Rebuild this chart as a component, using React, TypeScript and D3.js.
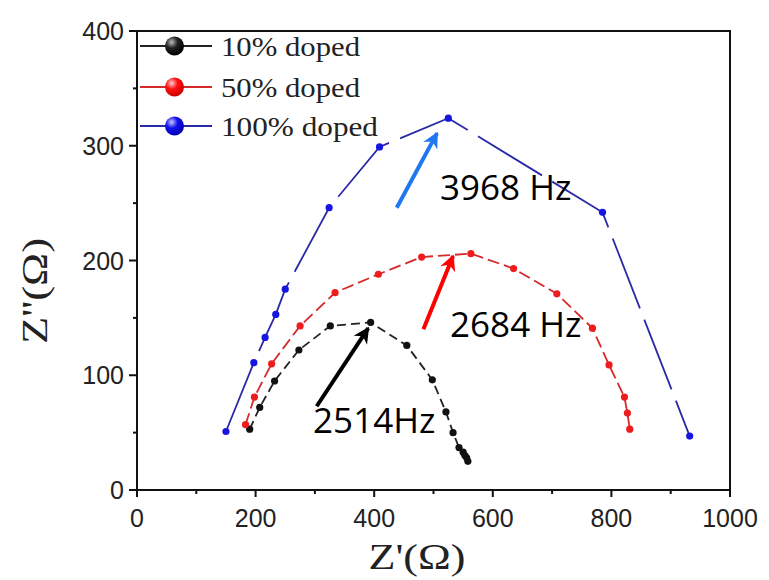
import { scaleLinear, line, range } from "d3";

// Nyquist data (Z', Z'')
const zRe10 = [190, 207, 232, 273, 326, 394, 455, 498, 521, 533, 543, 550, 553, 556, 558];
const zIm10 = [53, 72, 95, 122, 143, 146, 126, 96, 68, 50, 37, 33, 30, 28, 25];

const zRe50 = [183, 198, 227, 275, 334, 407, 480, 563, 635, 708, 768, 796, 822, 827, 831];
const zIm50 = [57, 81, 110, 143, 172, 188, 203, 206, 193, 171, 141, 109, 81, 67, 53];

const zRe100 = [150, 197, 216, 234, 250, 324, 409, 525, 785, 932];
const zIm100 = [51, 111, 133, 153, 175, 246, 299, 324, 242, 47];

const seriesNames = ["10% doped", "50% doped", "100% doped"];
const xTicks = [0, 200, 400, 600, 800, 1000];
const yTicks = [0, 100, 200, 300, 400];

// frequency annotations: [startX, startY, endX, endY], label anchor
const arrowBlack = [303, 73, 390, 141];
const arrowRed = [483, 140, 533, 204];
const arrowBlue = [438, 246, 506, 311];
const labels = [
  { text: "3968 Hz", x: 511, y: 253 },
  { text: "2684 Hz", x: 528, y: 133 },
  { text: "2514Hz", x: 297, y: 50 },
];

const W = 769;
const H = 580;
const m = { left: 137, right: 730, top: 31, bottom: 490 };

const App = () => {
  const x = scaleLinear().domain([0, 1000]).range([m.left, m.right]);
  const y = scaleLinear().domain([0, 400]).range([m.bottom, m.top]);

  const series = [
    { re: zRe10, im: zIm10, line: "#222", dot: "#111", dash: "9,5", grad: "gBlack" },
    { re: zRe50, im: zIm50, line: "#d42a2a", dot: "#ee1c1c", dash: "12,5", grad: "gRed" },
    { re: zRe100, im: zIm100, line: "#2a2aa8", dot: "#1616e0", dash: "75,12", grad: "gBlue" },
  ];

  const path = line<number>()
    .x((d) => x(d[0]))
    .y((d) => y(d[1]));

  const arrows = [
    { a: arrowBlack, c: "#000", id: "ahK" },
    { a: arrowRed, c: "#ff0000", id: "ahR" },
    { a: arrowBlue, c: "#1f78f0", id: "ahB" },
  ];

  const minorX = range(100, 1000, 200);
  const minorY = range(50, 400, 100);

  return (
    <svg
      width={W}
      height={H}
      style={{ position: "absolute", left: 0, top: 0, background: "#fff" }}
    >
      <defs>
        {arrows.map((ar) => (
          <marker
            key={ar.id}
            id={ar.id}
            viewBox="0 0 10 10"
            refX="9"
            refY="5"
            markerWidth="4.2"
            markerHeight="4"
            orient="auto"
          >
            <path d="M0,0 L10,5 L0,10 L3,5 z" fill={ar.c} />
          </marker>
        ))}
        <radialGradient id="gBlack" cx="0.35" cy="0.3" r="0.7">
          <stop offset="0" stopColor="#bbb" />
          <stop offset="0.45" stopColor="#222" />
          <stop offset="1" stopColor="#000" />
        </radialGradient>
        <radialGradient id="gRed" cx="0.35" cy="0.3" r="0.7">
          <stop offset="0" stopColor="#ffd0d0" />
          <stop offset="0.45" stopColor="#ff1010" />
          <stop offset="1" stopColor="#c00" />
        </radialGradient>
        <radialGradient id="gBlue" cx="0.35" cy="0.3" r="0.7">
          <stop offset="0" stopColor="#c8c8ff" />
          <stop offset="0.45" stopColor="#1010f0" />
          <stop offset="1" stopColor="#0000b0" />
        </radialGradient>
      </defs>

      {/* series */}
      {series.map((s, i) => {
        const pts = s.re.map((v, j) => [v, s.im[j]] as [number, number]);
        return (
          <g key={i}>
            <path
              d={path(pts) || ""}
              fill="none"
              stroke={s.line}
              strokeWidth={1.8}
              strokeDasharray={s.dash}
            />
            {pts.map((p, j) => (
              <circle key={j} cx={x(p[0])} cy={y(p[1])} r={3.6} fill={s.dot} />
            ))}
          </g>
        );
      })}

      {/* frame */}
      <rect
        x={m.left}
        y={m.top}
        width={m.right - m.left}
        height={m.bottom - m.top}
        fill="none"
        stroke="#111"
        strokeWidth={2}
      />

      {/* x axis ticks */}
      <g fontFamily="'Liberation Sans', Arial, sans-serif" fontSize={25} fill="#222">
        {xTicks.map((t) => (
          <g key={t}>
            <line x1={x(t)} x2={x(t)} y1={m.bottom} y2={m.bottom + 7} stroke="#111" strokeWidth={2} />
            <text x={x(t)} y={m.bottom + 37} textAnchor="middle">
              {t}
            </text>
          </g>
        ))}
        {minorX.map((t) => (
          <line key={t} x1={x(t)} x2={x(t)} y1={m.bottom} y2={m.bottom + 4} stroke="#111" strokeWidth={2} />
        ))}
        {yTicks.map((t) => (
          <g key={t}>
            <line x1={m.left - 8} x2={m.left} y1={y(t)} y2={y(t)} stroke="#111" strokeWidth={2} />
            <text x={m.left - 13} y={y(t) + 9} textAnchor="end">
              {t}
            </text>
          </g>
        ))}
        {minorY.map((t) => (
          <line key={t} x1={m.left - 4} x2={m.left} y1={y(t)} y2={y(t)} stroke="#111" strokeWidth={2} />
        ))}
      </g>

      {/* axis titles */}
      <text
        x={417}
        y={569}
        textAnchor="middle"
        fontFamily="'Liberation Serif', 'Times New Roman', serif"
        fontSize={36}
        fill="#222"
        textLength={97}
        lengthAdjust="spacingAndGlyphs"
      >
        Z'(Ω)
      </text>
      <text
        transform="translate(47,291) rotate(-90)"
        textAnchor="middle"
        fontFamily="'Liberation Serif', 'Times New Roman', serif"
        fontSize={35}
        fill="#222"
        textLength={106}
        lengthAdjust="spacingAndGlyphs"
      >
        Z''(Ω)
      </text>

      {/* legend */}
      {seriesNames.map((name, i) => {
        const ly = [46, 87, 126][i];
        return (
          <g key={name}>
            <line x1={m.left + 3} x2={212} y1={ly} y2={ly} stroke={series[i].line} strokeWidth={2} />
            <circle cx={174.5} cy={ly} r={9.5} fill={`url(#${series[i].grad})`} />
            <text
              x={221}
              y={ly + 10}
              fontFamily="'Liberation Serif', 'Times New Roman', serif"
              fontSize={28}
              fill="#222"
              textLength={i === 2 ? 157 : 139}
              lengthAdjust="spacingAndGlyphs"
            >
              {name}
            </text>
          </g>
        );
      })}

      {/* frequency arrows */}
      {arrows.map((ar) => (
        <line
          key={ar.id}
          x1={x(ar.a[0])}
          y1={y(ar.a[1])}
          x2={x(ar.a[2])}
          y2={y(ar.a[3])}
          stroke={ar.c}
          strokeWidth={4}
          markerEnd={`url(#${ar.id})`}
        />
      ))}
      {labels.map((l) => (
        <text
          key={l.text}
          x={x(l.x)}
          y={y(l.y)}
          fontFamily="'Open Sans', sans-serif"
          fontSize={35}
          fill="#000"
        >
          {l.text}
        </text>
      ))}
    </svg>
  );
};

export default App;
